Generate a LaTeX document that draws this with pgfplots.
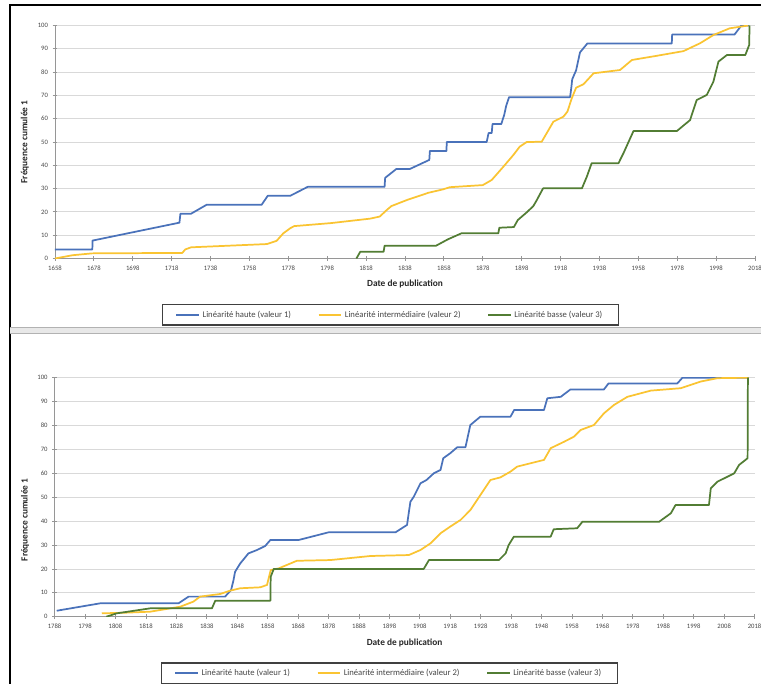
\documentclass[border=0pt]{standalone}
\usepackage{pgfplots}
\pgfplotsset{compat=1.18}
\usepackage{fontspec}
\setmainfont{Carlito}
\definecolor{cblue}{RGB}{74,114,186}
\definecolor{cyel}{RGB}{250,196,50}
\definecolor{cgreen}{RGB}{82,125,52}
\definecolor{gridc}{RGB}{217,217,217}
\definecolor{axc}{RGB}{150,150,150}
\definecolor{txt}{RGB}{70,70,70}
\pgfplotsset{myax/.style={
  scale only axis,
  width=525pt,
  axis x line*=bottom, axis y line*=left,
  ymin=0, ymax=100, ytick={0,10,...,100},
  ymajorgrids, grid style={gridc, line width=0.6pt},
  axis line style={axc, line width=0.6pt},
  tick style={axc, line width=0.6pt},
  major tick length=3.5pt,
  tick align=center,
  tick label style={font=\fontsize{5}{6}\selectfont, text=txt},
  /pgf/number format/assume math mode=true,
  /pgf/number format/1000 sep={},
  xlabel={Date de publication},
  ylabel={Fréquence cumulée 1},
  xlabel style={font=\bfseries\fontsize{7}{8}\selectfont, text=black!85, anchor=center},
  ylabel style={font=\bfseries\fontsize{7}{8}\selectfont, text=black!85, anchor=center},
  legend columns=3,
  legend cell align=left,
  legend image code/.code={\draw[#1, line width=1.3pt] (0pt,0pt) -- (17pt,0pt);},
  legend style={draw=black!75, line width=0.9pt, font=\fontsize{6.5}{7.5}\selectfont, text=txt,
    anchor=center, inner xsep=10pt, inner ysep=2.5pt,
    /tikz/every even column/.append style={column sep=18pt}},
  every axis plot/.append style={line width=1.3pt, no marks, line join=round},
}}
\begin{document}
\begin{tikzpicture}
\useasboundingbox (0,0) rectangle (570.75pt,-513pt);
\fill[white] (0,0) rectangle (570.75pt,-513pt);
\begin{scope}[x=0.75pt,y=-0.75pt]
\draw[black, line width=1pt] (10,684) -- (10,5) -- (761,5);
\fill[gray!18] (10,327) rectangle (761,333);
\draw[gray!60, line width=0.6pt] (10,327) -- (761,327);
\draw[gray!60, line width=0.6pt] (10,333) -- (761,333);
\end{scope}

% ---------- top chart ----------
\begin{axis}[myax,
  at={(41.25pt,-193.875pt)}, anchor=south west,
  height=174.75pt,
  xmin=1658, xmax=2018, xtick={1658,1678,...,2018},
  xlabel style={at={(axis description cs:0.5,-0.109)}},
  ylabel style={at={(axis description cs:-0.043,0.5)}},
  legend style={at={(0.479,-0.242)}},
]
\addplot[cblue] coordinates {
(1658,3.85)(1677.2,3.85)(1677.3,7.69)(1722,15.38)(1722.5,19.23)(1728,19.23)(1736,23.08)
(1764.3,23.08)(1767.4,26.92)(1779,26.92)(1788,30.77)(1827.5,30.77)(1827.8,34.62)(1833.6,38.46)
(1840.6,38.46)(1850.5,42.31)(1850.8,46.15)(1859.3,46.15)(1859.5,50)(1880,50)(1881,53.85)
(1882.6,53.85)(1883,57.69)(1887.5,57.69)(1889,61.54)(1890,65.38)(1891.5,69.23)(1922.9,69.23)
(1923.5,73.08)(1924,76.92)(1926,80.77)(1927,84.62)(1928,88.46)(1931.8,92.31)(1975.2,92.31)
(1975.4,96.15)(2007.5,96.15)(2011,100)(2015,100)};
\addlegendentry{Linéarité haute (valeur 1)}
\addplot[cyel] coordinates {
(1658,0)(1667,1.4)(1677,2.2)(1723.5,2.4)(1725,3.9)(1728,4.8)(1767,6.2)(1772,7.6)(1775.4,10.8)
(1779,13)(1781,13.9)(1800,15.2)(1820,17.1)(1825,18)(1828.6,20.8)(1831,22.5)(1839,25.1)
(1844,26.5)(1850,28.2)(1857.7,29.7)(1861,30.6)(1878,31.5)(1882.6,33.7)(1888.6,39.4)
(1893.8,44.5)(1897,48)(1900.6,50)(1908.3,50.1)(1914.3,58.7)(1919.5,60.9)(1921.5,63)
(1923.8,68.8)(1926,73.3)(1929.8,74.8)(1935,79.5)(1948.6,80.9)(1954.7,85.2)(1967.5,87)
(1981.2,89)(1989.8,92.4)(1996.6,95.9)(2005,98.8)(2014.6,100)};
\addlegendentry{Linéarité intermédiaire (valeur 2)}
\addplot[cgreen] coordinates {
(1813,0)(1815,2.9)(1827,2.9)(1827.5,5.5)(1854,5.5)(1860,8.2)(1867,10.8)(1886,10.8)
(1886.5,13.2)(1894,13.5)(1896,16.5)(1900.6,19.8)(1904,22.5)(1905.8,25.1)(1909,30.1)
(1929,30.1)(1931.5,35.1)(1934,40.9)(1947.8,40.9)(1950.3,45.1)(1955.5,54.7)(1977.8,54.7)
(1984.6,59.4)(1988,68)(1993.2,70.2)(1996.6,75.9)(1999.2,84.5)(2003.5,87.3)(2013,87.3)
(2015,91.6)(2015.2,100)};
\addlegendentry{Linéarité basse (valeur 3)}
\end{axis}

% ---------- bottom chart ----------
\begin{axis}[myax,
  at={(40.95pt,-462.525pt)}, anchor=south west,
  height=179.25pt,
  xmin=1788, xmax=2018, xtick={1788,1798,...,2018},
  xlabel style={at={(axis description cs:0.5,-0.110)}},
  ylabel style={at={(axis description cs:-0.042,0.405)}},
  legend style={at={(0.478,-0.236)}},
]
\addplot[cblue] coordinates {
(1788.7,2.5)(1803,5.6)(1828.7,5.6)(1832,8.4)(1844,8.4)(1846,11.2)(1846.8,15.4)(1847.3,18.8)
(1849,22.3)(1851.7,26.5)(1854.5,27.9)(1857.2,29.6)(1858.9,32.1)(1868.2,32.1)(1878,35.3)
(1900,35.3)(1903.8,38.4)(1904.9,48.1)(1906,50.2)(1908.2,55.8)(1910.2,57.2)(1912.6,60)
(1914.8,61.4)(1915.7,66.3)(1918,68.4)(1920.3,70.9)(1923,70.9)(1924.6,80.2)(1927.9,83.7)
(1937.8,83.7)(1939,86.5)(1948.8,86.5)(1949.9,91.4)(1954.3,92)(1957.5,95.1)(1968.5,95.1)
(1970,97.6)(1992.6,97.6)(1994.3,100)(2016,100)};
\addlegendentry{Linéarité haute (valeur 1)}
\addplot[cyel] coordinates {
(1803.5,1.4)(1811.7,1.7)(1819.4,2.1)(1829.3,4.2)(1833.6,6.3)(1835.8,8.4)(1842.4,9.5)
(1845.7,10.9)(1849,11.9)(1855.6,12.3)(1857.8,13.3)(1859,19.5)(1861.6,20.2)(1867.6,23.4)
(1878.6,23.7)(1891.8,25.4)(1904.4,25.8)(1908.2,27.9)(1911.5,30.7)(1914.8,34.9)(1918,37.7)
(1921.4,40.5)(1924.6,44.6)(1926.8,48.8)(1929,53)(1931.2,57.2)(1934.5,58.3)(1937.8,60.7)
(1940,62.8)(1948.8,65.6)(1951,70.5)(1955.4,73.2)(1958.6,75.3)(1960.8,78.1)(1965.2,80.2)
(1968.5,85.1)(1971.8,88.6)(1976.2,92)(1983.9,94.6)(1993.7,95.6)(2000.3,98.4)(2005.8,99.8)
(2016,100)};
\addlegendentry{Linéarité intermédiaire (valeur 2)}
\addplot[cgreen] coordinates {
(1805,0)(1808.4,1.4)(1819.4,3.5)(1839.7,3.5)(1840.8,6.7)(1858.9,6.7)(1859,16.7)(1860,20)
(1909.3,20)(1911,23.7)(1934,23.7)(1936.2,26.5)(1937.2,30)(1938.9,33.5)(1951,33.5)(1952,36.6)
(1959.7,37)(1961.4,39.7)(1986.6,39.7)(1990.5,43.3)(1992,46.7)(2003,46.7)(2003.6,53.7)
(2005.8,56.5)(2011.3,60)(2012.9,63.5)(2015.7,66.3)(2015.8,100)};
\addlegendentry{Linéarité basse (valeur 3)}
\end{axis}
\end{tikzpicture}
\end{document}
